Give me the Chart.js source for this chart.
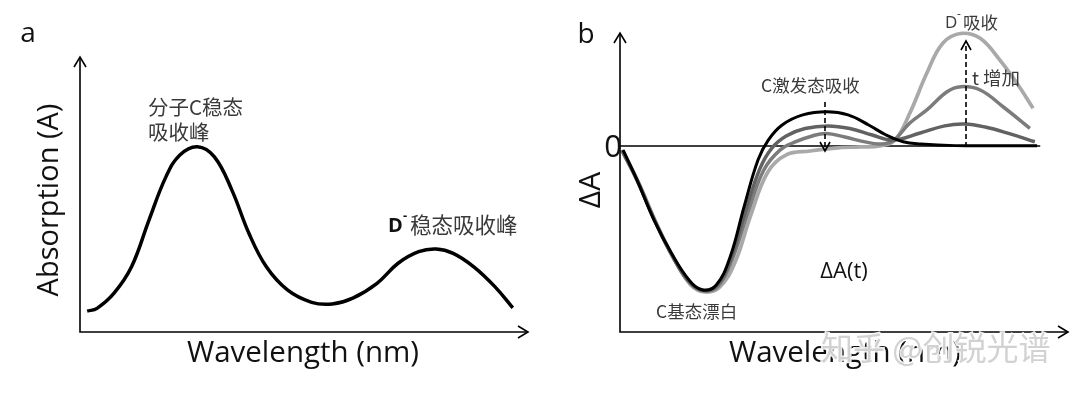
<!DOCTYPE html>
<html><head><meta charset="utf-8">
<script src="https://cdn.jsdelivr.net/npm/chart.js@4"></script>
<style>
html,body{margin:0;padding:0;background:#fff;}
#wrap{position:relative;width:1080px;height:394px;overflow:hidden;background:#fff}
.c{position:absolute;top:0;width:540px;height:394px}
</style></head><body>
<div id="wrap">
<div class="c" style="left:0"><canvas id="ca"></canvas></div>
<div class="c" style="left:540px"><canvas id="cb"></canvas></div>
</div>
<script>
// ---------- Panel a: steady-state absorption ----------
const absWavelength = [1.6, 3.8, 7.6, 11.5, 15.4, 19.2, 22.3, 26.2, 30.0, 33.9, 37.7, 41.6, 46.3, 51.7, 56.3, 60.9, 66.3, 71.0, 75.6, 79.5, 83.3, 87.9, 92.6, 96.6];
const absValue      = [7.6, 8.6, 14.1, 23.7, 40.7, 56.5, 64.4, 67.4, 63.7, 51.6, 35.9, 23.7, 15.3, 10.8, 10.2, 12.3, 17.7, 25.0, 29.2, 30.2, 28.6, 23.7, 16.5, 8.8];

// ---------- Panel b: transient absorption ΔA(t) ----------
const t0X = [0.7, 3.8, 7.6, 11.5, 15.4, 18.4, 21.5, 24.6, 27.7, 30.8, 33.1, 36.2, 40.8, 46.2, 50.9, 55.5, 59.4, 63.2, 67.1, 74.8, 84.8, 93.1];
const t0Y = [-2.2, -18.3, -39.8, -57.7, -72.0, -77.4, -74.7, -59.5, -32.6, -7.5, 3.2, 11.3, 16.7, 18.4, 16.7, 11.3, 5.9, 2.3, 1.1, 0.2, 0.1, 0.1];

const t1X = [0.45, 3.8, 7.8, 11.6, 15.4, 18.5, 21.7, 24.8, 28.1, 31.3, 33.9, 37.1, 41.3, 46.4, 51.3, 56.3, 60.9, 67.0, 72.5, 76.8, 81.5, 87.1, 92.6];
const t1Y = [-2.2, -18.3, -40.3, -58.6, -72.6, -77.4, -74.7, -60.2, -34.4, -11.8, -1.1, 5.4, 9.4, 10.8, 9.4, 5.9, 3.2, 7.0, 10.8, 11.8, 10.2, 6.5, 2.3];

const t2X = [0.45, 4.0, 8.0, 11.8, 15.6, 18.8, 21.9, 25.0, 28.6, 32.1, 35.7, 39.1, 42.9, 46.0, 50.2, 54.7, 58.0, 60.9, 64.7, 68.5, 73.0, 76.1, 80.4, 85.5, 91.5];
const t2Y = [-2.7, -19.4, -41.4, -59.7, -73.7, -78.0, -75.3, -61.3, -35.5, -12.9, -2.2, 2.2, 5.4, 6.7, 4.8, 2.2, 1.1, 2.7, 12.4, 19.4, 29.2, 31.9, 30.1, 21.1, 9.5];

const t3X = [0.67, 4.2, 8.3, 12.1, 15.8, 19.0, 22.3, 25.7, 29.2, 33.0, 37.1, 42.4, 48.0, 53.6, 58.0, 61.4, 64.7, 68.5, 72.1, 76.3, 80.4, 84.8, 88.6, 92.2];
const t3Y = [-2.7, -19.9, -42.5, -60.8, -74.7, -78.5, -75.8, -62.4, -37.1, -14.0, -4.8, -2.7, -1.1, -0.5, 0, 3.2, 17.7, 39.2, 55.4, 60.6, 57.9, 46.2, 33.7, 20.3];

const zeroLineX = [0, 93.8];

const FONT_LAT = '"Open Sans", "DejaVu Sans", sans-serif';
const FONT_CJK = '"Noto Sans CJK SC", sans-serif';

function pts(xs, ys) { return xs.map((x, i) => ({ x: x, y: ys[i] })); }

function chevron(ctx, x, y, dir, len, half) {
  ctx.beginPath();
  if (dir === 'up')    { ctx.moveTo(x - half, y + len); ctx.lineTo(x, y); ctx.lineTo(x + half, y + len); }
  if (dir === 'down')  { ctx.moveTo(x - half, y - len); ctx.lineTo(x, y); ctx.lineTo(x + half, y - len); }
  if (dir === 'right') { ctx.moveTo(x - len, y - half); ctx.lineTo(x, y); ctx.lineTo(x - len, y + half); }
  ctx.stroke();
}

function text(ctx, s, x, y, font, color, align) {
  ctx.save();
  ctx.font = font; ctx.fillStyle = color;
  ctx.textAlign = align || 'left'; ctx.textBaseline = 'middle';
  ctx.fillText(s, x, y);
  ctx.restore();
}
function vtext(ctx, s, x, y, font, color) {
  ctx.save();
  ctx.translate(x, y); ctx.rotate(-Math.PI / 2);
  ctx.font = font; ctx.fillStyle = color;
  ctx.textAlign = 'center'; ctx.textBaseline = 'middle';
  ctx.fillText(s, 0, 0);
  ctx.restore();
}

function baseOptions(yMin, yMax, pad) {
  return {
    responsive: true, maintainAspectRatio: false, animation: false,
    layout: { padding: pad },
    plugins: { legend: { display: false }, tooltip: { enabled: false } },
    elements: { point: { radius: 0 } },
    scales: {
      x: { type: 'linear', min: 0, max: 100, display: false },
      y: { type: 'linear', min: yMin, max: yMax, display: false }
    }
  };
}

function drawAxes(chart) {
  const ctx = chart.ctx, a = chart.chartArea;
  ctx.save();
  ctx.strokeStyle = '#000'; ctx.lineWidth = 1.6; ctx.lineCap = 'butt';
  ctx.beginPath();
  ctx.moveTo(a.left, a.top); ctx.lineTo(a.left, a.bottom); ctx.lineTo(a.right, a.bottom);
  ctx.stroke();
  chevron(ctx, a.left, a.top, 'up', 10, 6);
  chevron(ctx, a.right, a.bottom, 'right', 10, 6);
  ctx.restore();
}

// ---------- Chart a ----------
const pluginA = {
  id: 'panelA',
  afterDraw(chart) {
    const ctx = chart.ctx;
    drawAxes(chart);
    text(ctx, 'a', 28, 34, '28px ' + FONT_LAT, '#111', 'center');
    vtext(ctx, 'Absorption (A)', 50, 200, '29px ' + FONT_LAT, '#111');
    text(ctx, 'Wavelength (nm)', 303, 354, '29.5px ' + FONT_LAT, '#111', 'center');
    text(ctx, '分子C稳态', 148, 107, '20.5px ' + FONT_CJK, '#3a3a3a');
    text(ctx, '吸收峰', 148, 132, '20.5px ' + FONT_CJK, '#3a3a3a');
    text(ctx, 'D', 388, 226, 'bold 20px ' + FONT_LAT, '#111');
    text(ctx, '-', 403, 216, 'bold 13px ' + FONT_LAT, '#111');
    text(ctx, '稳态吸收峰', 410, 225, '21.5px ' + FONT_CJK, '#3a3a3a');
  }
};

new Chart(document.getElementById('ca'), {
  type: 'line',
  data: {
    datasets: [{
      data: pts(absWavelength, absValue),
      borderColor: '#000', borderWidth: 3.5, tension: 0.4, fill: false, clip: false
    }]
  },
  options: baseOptions(0, 100, { left: 80, right: 12, top: 57, bottom: 62 }),
  plugins: [pluginA]
});

// ---------- Chart b ----------
const pluginB = {
  id: 'panelB',
  beforeDatasetsDraw(chart) {
    const ctx = chart.ctx, xs = chart.scales.x, ys = chart.scales.y;
    ctx.save();
    ctx.strokeStyle = '#000'; ctx.lineWidth = 1.5;
    ctx.beginPath();
    ctx.moveTo(xs.getPixelForValue(zeroLineX[0]), ys.getPixelForValue(0));
    ctx.lineTo(xs.getPixelForValue(zeroLineX[1]), ys.getPixelForValue(0));
    ctx.stroke();
    ctx.restore();
  },
  afterDraw(chart) {
    const ctx = chart.ctx;
    drawAxes(chart);
    ctx.save();
    ctx.strokeStyle = '#000'; ctx.lineWidth = 1.6;
    ctx.setLineDash([5, 3]);
    ctx.beginPath(); ctx.moveTo(285, 102); ctx.lineTo(285, 150); ctx.stroke();
    ctx.beginPath(); ctx.moveTo(426, 147); ctx.lineTo(426, 42); ctx.stroke();
    ctx.setLineDash([]);
    chevron(ctx, 285, 151, 'down', 9, 5);
    chevron(ctx, 426, 41, 'up', 9, 5);
    ctx.restore();

    text(ctx, 'b', 46, 35, '28px ' + FONT_LAT, '#111', 'center');
    text(ctx, '0', 73, 148, '31px ' + FONT_LAT, '#111', 'center');
    vtext(ctx, 'ΔA', 51, 190, '30px ' + FONT_LAT, '#111');
    text(ctx, 'C激发态吸收', 221, 85, '17.5px ' + FONT_CJK, '#3a3a3a');
    text(ctx, 'D', 405, 23, '17px ' + FONT_LAT, '#3a3a3a');
    text(ctx, '-', 417, 15, '12px ' + FONT_LAT, '#3a3a3a');
    text(ctx, '吸收', 423, 22, '17.5px ' + FONT_CJK, '#3a3a3a');
    text(ctx, 't 增加', 432, 78, '18.5px ' + FONT_CJK, '#3a3a3a');
    text(ctx, 'ΔA(t)', 304, 272, '22px ' + FONT_LAT, '#111', 'center');
    text(ctx, 'C基态漂白', 116, 311, '17.5px ' + FONT_CJK, '#3a3a3a');
    text(ctx, 'Wavelength (nm)', 305, 354, '29.5px ' + FONT_LAT, '#111', 'center');
    // watermark
    ctx.save();
    ctx.font = '32px ' + FONT_CJK;
    ctx.textBaseline = 'middle'; ctx.textAlign = 'left';
    ctx.lineWidth = 3; ctx.strokeStyle = 'rgba(255,255,255,0.9)';
    ctx.strokeText('知乎 @创锐光谱', 281, 348);
    ctx.fillStyle = 'rgba(205,205,205,0.9)';
    ctx.fillText('知乎 @创锐光谱', 281, 348);
    ctx.restore();
  }
};

function series(xs, ys, color, w) {
  return { data: pts(xs, ys), borderColor: color, borderWidth: w, tension: 0.4, fill: false, clip: false };
}

new Chart(document.getElementById('cb'), {
  type: 'line',
  data: {
    datasets: [
      series(t0X, t0Y, '#000000', 3),
      series(t1X, t1Y, '#626262', 3.5),
      series(t2X, t2Y, '#7c7c7c', 3.5),
      series(t3X, t3Y, '#a9a9a9', 3.7)
    ]
  },
  options: baseOptions(-100, 60.75, { left: 80, right: 12, top: 33, bottom: 62 }),
  plugins: [pluginB]
});
</script>
</body></html>
